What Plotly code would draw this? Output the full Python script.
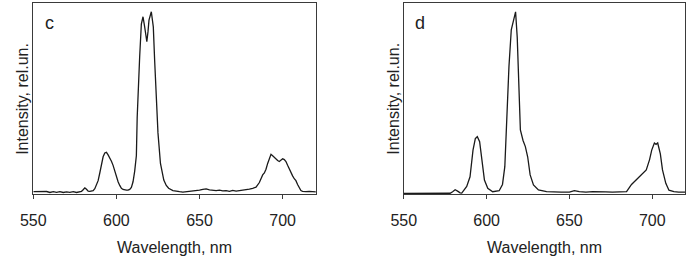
import plotly.graph_objects as go

# Panel c spectrum
wl_c = [550, 553, 556, 558, 560, 562, 564, 566, 568, 570, 572, 574, 576, 578, 579, 580, 581, 582, 583,
        584, 585, 586, 587, 588, 589, 590, 591, 592, 593, 594, 595, 596, 597, 598, 599, 600, 601, 602,
        603, 604, 605, 606, 607, 608, 609, 610, 611, 612, 612.5, 613, 614, 615, 616, 617, 618.3, 619,
        619.6, 621, 622.2, 623, 623.6, 624.3, 625, 626.5, 627.5, 628.5, 630, 631.4, 634, 636.4, 638, 640,
        642, 644, 646, 648, 650, 652, 654, 656, 658, 660, 662, 664, 666, 668, 670, 672, 674, 676, 678,
        680, 682, 684, 686, 687, 688, 689, 690, 691, 692, 693, 694, 695, 696, 697, 698, 699, 700, 701,
        702, 703, 704, 705, 706, 707, 708, 709, 710, 711, 712, 714, 716, 718, 720]
int_c = [0.012, 0.012, 0.010, 0.013, 0.008, 0.012, 0.009, 0.012, 0.008, 0.011, 0.009, 0.012, 0.008, 0.010,
         0.014, 0.022, 0.032, 0.025, 0.015, 0.014, 0.015, 0.018, 0.028, 0.045, 0.07, 0.11, 0.16, 0.195,
         0.215, 0.218, 0.205, 0.19, 0.172, 0.15, 0.12, 0.09, 0.064, 0.045, 0.03, 0.024, 0.021, 0.02, 0.02,
         0.024, 0.035, 0.064, 0.12, 0.2, 0.40, 0.52, 0.72, 0.89, 0.928, 0.875, 0.797, 0.85, 0.91, 0.954,
         0.875, 0.70, 0.58, 0.45, 0.32, 0.16, 0.11, 0.073, 0.045, 0.03, 0.018, 0.013, 0.012, 0.01, 0.012,
         0.011, 0.014, 0.016, 0.02, 0.024, 0.027, 0.022, 0.02, 0.018, 0.02, 0.016, 0.018, 0.014, 0.019,
         0.015, 0.018, 0.02, 0.022, 0.026, 0.03, 0.036, 0.06, 0.08, 0.1, 0.11, 0.13, 0.16, 0.19, 0.208,
         0.2, 0.19, 0.185, 0.175, 0.17, 0.18, 0.185, 0.18, 0.17, 0.15, 0.13, 0.11, 0.095, 0.08, 0.07,
         0.05, 0.03, 0.018, 0.014, 0.012, 0.014, 0.012, 0.011]

# Panel d spectrum
wl_d = [550, 560, 570, 578, 579.5, 581, 582.5, 584, 585, 588, 590, 591.8, 593.2, 594.4, 595.8, 597.2,
        598.7, 600.7, 603.7, 607.6, 609.6, 611, 612.1, 613.5, 614.9, 616.5, 617.5, 618.5, 619.4, 620.4,
        622, 623.4, 624.8, 626.3, 628.3, 631.3, 636.2, 640, 645, 650, 653, 656, 660, 664, 668, 672,
        676, 680, 684.5, 687.5, 690.4, 693.4, 695, 696.4, 698.4, 699.7, 701.3, 702.3, 703.3, 704.9,
        706.2, 708.2, 710.1, 713.1, 716, 720]
int_d = [0.003, 0.003, 0.003, 0.004, 0.012, 0.022, 0.015, 0.006, 0.005, 0.04, 0.09, 0.23, 0.29, 0.30,
         0.274, 0.178, 0.073, 0.03, 0.012, 0.017, 0.05, 0.143, 0.40, 0.667, 0.86, 0.928, 0.954, 0.82, 0.58,
         0.335, 0.28, 0.248, 0.195, 0.10, 0.047, 0.021, 0.012, 0.01, 0.01, 0.01, 0.018, 0.012, 0.01, 0.012,
         0.01, 0.011, 0.01, 0.01, 0.012, 0.05, 0.075, 0.10, 0.115, 0.126, 0.18, 0.23, 0.267, 0.26, 0.267,
         0.21, 0.126, 0.056, 0.02, 0.012, 0.01, 0.01]

x_ticks = [550, 600, 650, 700]
x_range = [550, 720]
panel_labels = ["c", "d"]
x_title = "Wavelength, nm"
y_title = "Intensity, rel.un."

FONT = "Liberation Sans, Arial, sans-serif"
LINE = "#3a3a3a"

fig = go.Figure()
fig.add_trace(go.Scatter(x=wl_c, y=int_c, mode="lines", line=dict(color="#1a1a1a", width=1.3),
                         xaxis="x", yaxis="y", showlegend=False))
fig.add_trace(go.Scatter(x=wl_d, y=int_d, mode="lines", line=dict(color="#1a1a1a", width=1.3),
                         xaxis="x2", yaxis="y2", showlegend=False))

W, H = 688, 260
dom_c = [20.7 / W, 308.7 / W]
dom_d = [398.3 / W, 685.3 / W]
ydom = [66 / H, 257 / H]

xa = dict(range=x_range, tickvals=x_ticks, ticks="outside", ticklen=4, tickwidth=1, tickcolor=LINE,
          showline=True, linecolor=LINE, linewidth=1.3, mirror=True, showgrid=False, zeroline=False,
          ticklabelstandoff=8,
          tickfont=dict(family=FONT, size=16, color="#222222"), fixedrange=True)
ya = dict(range=[0, 1], showticklabels=False, ticks="", showline=True, linecolor=LINE, linewidth=1.3,
          mirror=True, showgrid=False, zeroline=False, fixedrange=True)

fig.update_layout(
    width=W, height=H, margin=dict(l=0, r=0, t=0, b=0),
    paper_bgcolor="white", plot_bgcolor="white",
    xaxis=dict(domain=dom_c, anchor="y", **xa),
    yaxis=dict(domain=ydom, anchor="x", **ya),
    xaxis2=dict(domain=dom_d, anchor="y2", **xa),
    yaxis2=dict(domain=ydom, anchor="x2", **ya),
)

ann = []
for dom, lab, lx, ytx in [(dom_c, panel_labels[0], 36.7, 9.5), (dom_d, panel_labels[1], 414.5, 387.5)]:
    ann.append(dict(text=x_title, x=(dom[0] + dom[1]) / 2, y=(H - 247) / H, xref="paper", yref="paper",
                    xanchor="center", yanchor="middle", showarrow=False,
                    font=dict(family=FONT, size=16, color="#222222")))
    ann.append(dict(text=y_title, x=ytx / W, y=(H - 98.5) / H, xref="paper", yref="paper",
                    xanchor="center", yanchor="middle", textangle=-90, showarrow=False,
                    font=dict(family=FONT, size=16, color="#222222")))
    ann.append(dict(text=lab, x=lx / W, y=(H - 23) / H, xref="paper", yref="paper",
                    xanchor="center", yanchor="middle", showarrow=False,
                    font=dict(family=FONT, size=18, color="#222222")))
fig.update_layout(annotations=ann)

fig.write_html("out.html", config={"displayModeBar": False},
               post_script="document.body.style.margin='0';document.body.style.overflow='hidden';")
